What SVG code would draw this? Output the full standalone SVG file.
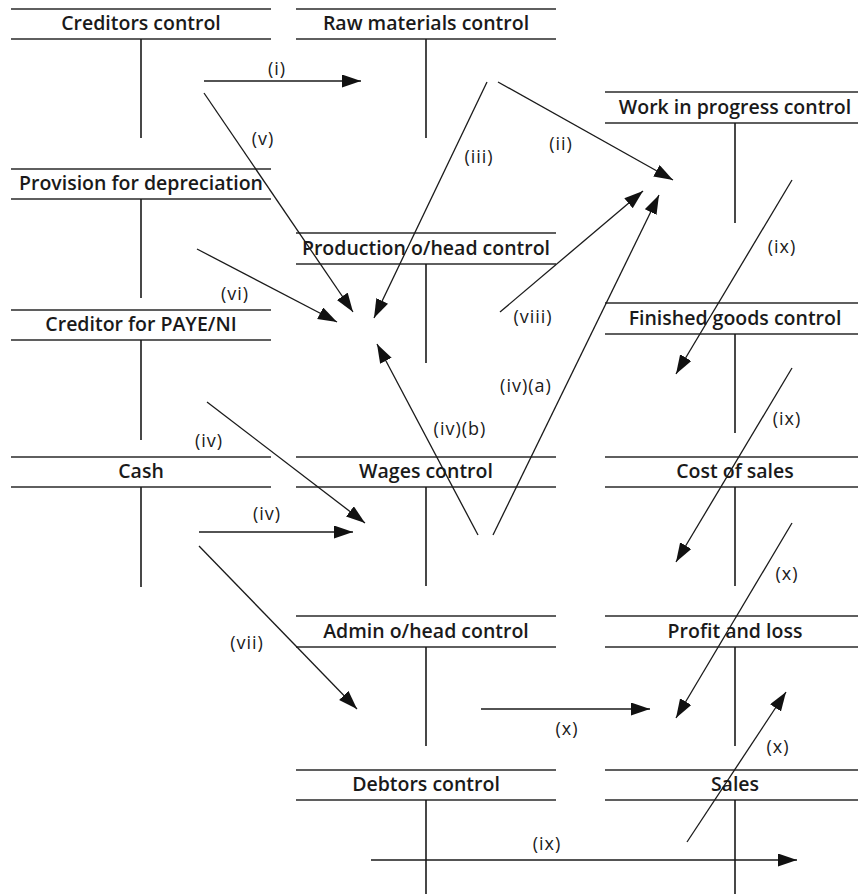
<svg xmlns="http://www.w3.org/2000/svg" width="858" height="894" viewBox="0 0 858 894">
<style>
.hl{stroke:#2a2a2a;stroke-width:1.3;fill:none}
.vl{stroke:#1a1a1a;stroke-width:1.6;fill:none}
.ttl{font-family:"Open Sans","Liberation Sans",sans-serif;font-weight:600;font-size:19.5px;fill:#1a1a1a;text-anchor:middle}
.lbl{font-family:"Open Sans","Liberation Sans",sans-serif;font-size:18px;letter-spacing:1px;fill:#1a1a1a;text-anchor:middle}
.cn{stroke:#1a1a1a;stroke-width:1.3;fill:none;marker-end:url(#ah)}
</style>
<defs>
<marker id="ah" markerUnits="userSpaceOnUse" markerWidth="20" markerHeight="14" refX="19" refY="6.5" orient="auto">
<path d="M0,0 L19,6.5 L0,13 Z" fill="#111"/>
</marker>
</defs>
<rect width="858" height="894" fill="#fff"/>

<g id="creditors-control">
<line class="hl" x1="11" y1="9" x2="271" y2="9"/><line class="hl" x1="11" y1="39" x2="271" y2="39"/>
<line class="vl" x1="141" y1="39" x2="141" y2="138"/>
<text class="ttl" x="141" y="30">Creditors control</text>
</g>
<g id="raw-materials-control">
<line class="hl" x1="296" y1="9" x2="556" y2="9"/><line class="hl" x1="296" y1="39" x2="556" y2="39"/>
<line class="vl" x1="426" y1="39" x2="426" y2="138"/>
<text class="ttl" x="426" y="30">Raw materials control</text>
</g>
<g id="wip-control">
<line class="hl" x1="605" y1="92" x2="858" y2="92"/><line class="hl" x1="605" y1="123" x2="858" y2="123"/>
<line class="vl" x1="735" y1="123" x2="735" y2="223"/>
<text class="ttl" x="735" y="114">Work in progress control</text>
</g>
<g id="provision-for-depreciation">
<line class="hl" x1="11" y1="169" x2="271" y2="169"/><line class="hl" x1="11" y1="199" x2="271" y2="199"/>
<line class="vl" x1="141" y1="199" x2="141" y2="298"/>
<text class="ttl" x="141" y="190">Provision for depreciation</text>
</g>
<g id="production-overhead-control">
<line class="hl" x1="296" y1="233" x2="556" y2="233"/><line class="hl" x1="296" y1="264" x2="556" y2="264"/>
<line class="vl" x1="426" y1="264" x2="426" y2="363"/>
<text class="ttl" x="426" y="255">Production o/head control</text>
</g>
<g id="finished-goods-control">
<line class="hl" x1="605" y1="303" x2="858" y2="303"/><line class="hl" x1="605" y1="334" x2="858" y2="334"/>
<line class="vl" x1="735" y1="334" x2="735" y2="433"/>
<text class="ttl" x="735" y="325">Finished goods control</text>
</g>
<g id="creditor-paye-ni">
<line class="hl" x1="11" y1="310" x2="271" y2="310"/><line class="hl" x1="11" y1="340" x2="271" y2="340"/>
<line class="vl" x1="141" y1="340" x2="141" y2="440"/>
<text class="ttl" x="141" y="331">Creditor for PAYE/NI</text>
</g>
<g id="cash">
<line class="hl" x1="11" y1="457" x2="271" y2="457"/><line class="hl" x1="11" y1="487" x2="271" y2="487"/>
<line class="vl" x1="141" y1="487" x2="141" y2="587"/>
<text class="ttl" x="141" y="478">Cash</text>
</g>
<g id="wages-control">
<line class="hl" x1="296" y1="457" x2="556" y2="457"/><line class="hl" x1="296" y1="487" x2="556" y2="487"/>
<line class="vl" x1="426" y1="487" x2="426" y2="586"/>
<text class="ttl" x="426" y="478">Wages control</text>
</g>
<g id="cost-of-sales">
<line class="hl" x1="605" y1="457" x2="858" y2="457"/><line class="hl" x1="605" y1="487" x2="858" y2="487"/>
<line class="vl" x1="735" y1="487" x2="735" y2="586"/>
<text class="ttl" x="735" y="478">Cost of sales</text>
</g>
<g id="admin-overhead-control">
<line class="hl" x1="296" y1="616" x2="556" y2="616"/><line class="hl" x1="296" y1="647" x2="556" y2="647"/>
<line class="vl" x1="426" y1="647" x2="426" y2="746"/>
<text class="ttl" x="426" y="638">Admin o/head control</text>
</g>
<g id="profit-and-loss">
<line class="hl" x1="605" y1="616" x2="858" y2="616"/><line class="hl" x1="605" y1="647" x2="858" y2="647"/>
<line class="vl" x1="735" y1="647" x2="735" y2="746"/>
<text class="ttl" x="735" y="638">Profit and loss</text>
</g>
<g id="debtors-control">
<line class="hl" x1="296" y1="770" x2="556" y2="770"/><line class="hl" x1="296" y1="800" x2="556" y2="800"/>
<line class="vl" x1="426" y1="800" x2="426" y2="894"/>
<text class="ttl" x="426" y="791">Debtors control</text>
</g>
<g id="sales">
<line class="hl" x1="605" y1="770" x2="858" y2="770"/><line class="hl" x1="605" y1="800" x2="858" y2="800"/>
<line class="vl" x1="735" y1="800" x2="735" y2="894"/>
<text class="ttl" x="735" y="791">Sales</text>
</g>

<g id="connectors">
<line class="cn" x1="204" y1="81" x2="361" y2="81"/>
<line class="cn" x1="204" y1="93" x2="353" y2="312"/>
<line class="cn" x1="487" y1="82" x2="374" y2="318"/>
<line class="cn" x1="498" y1="82" x2="673" y2="180"/>
<line class="cn" x1="197" y1="249" x2="337" y2="322"/>
<line class="cn" x1="500" y1="312" x2="643" y2="191"/>
<line class="cn" x1="493" y1="535" x2="659" y2="195"/>
<line class="cn" x1="478" y1="535" x2="377" y2="344"/>
<line class="cn" x1="207" y1="402" x2="365" y2="523"/>
<line class="cn" x1="199" y1="532" x2="353" y2="532"/>
<line class="cn" x1="199" y1="546" x2="357" y2="709"/>
<line class="cn" x1="792" y1="180" x2="676" y2="374"/>
<line class="cn" x1="792" y1="368" x2="676" y2="562"/>
<line class="cn" x1="792" y1="523" x2="676" y2="718"/>
<line class="cn" x1="481" y1="709" x2="650" y2="709"/>
<line class="cn" x1="687" y1="842" x2="786" y2="692"/>
<line class="cn" x1="371" y1="860" x2="797" y2="860"/>
<g id="labels">
<text class="lbl" x="277" y="75">(i)</text>
<text class="lbl" x="263" y="145">(v)</text>
<text class="lbl" x="479" y="163">(iii)</text>
<text class="lbl" x="561" y="150">(ii)</text>
<text class="lbl" x="235" y="300">(vi)</text>
<text class="lbl" x="533" y="323">(viii)</text>
<text class="lbl" x="526" y="392">(iv)(a)</text>
<text class="lbl" x="460" y="435">(iv)(b)</text>
<text class="lbl" x="209" y="447">(iv)</text>
<text class="lbl" x="267" y="520">(iv)</text>
<text class="lbl" x="247" y="649">(vii)</text>
<text class="lbl" x="782" y="253">(ix)</text>
<text class="lbl" x="787" y="425">(ix)</text>
<text class="lbl" x="787" y="580">(x)</text>
<text class="lbl" x="567" y="735">(x)</text>
<text class="lbl" x="778" y="753">(x)</text>
<text class="lbl" x="547" y="850">(ix)</text>
</g>
</g>
</svg>
